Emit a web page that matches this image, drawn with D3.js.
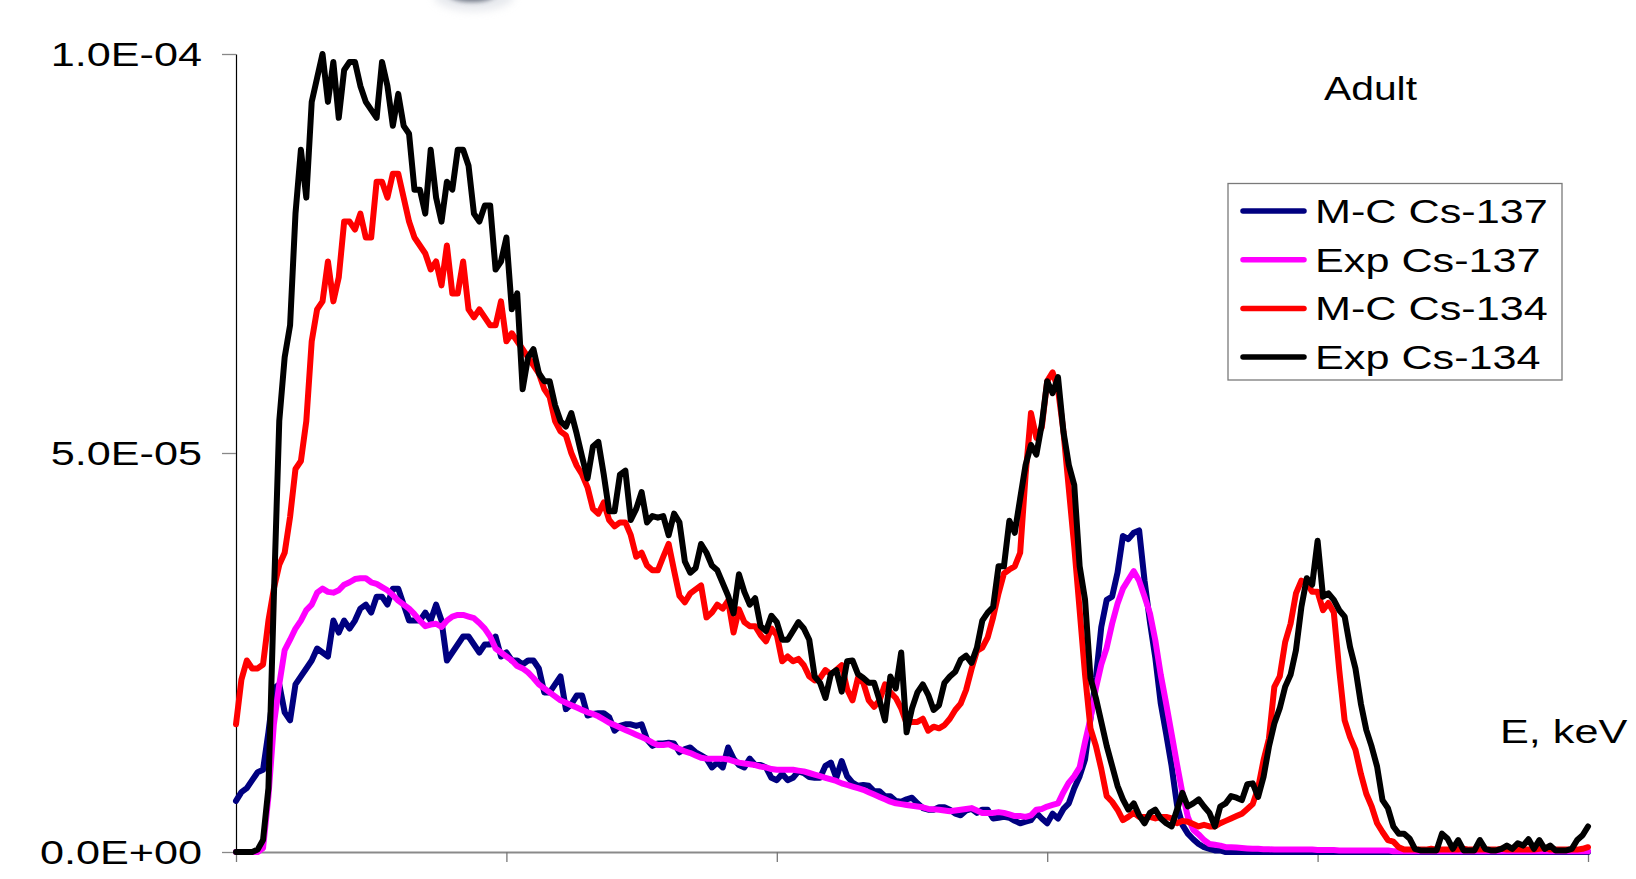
<!DOCTYPE html>
<html lang="en">
<head>
    <meta charset="UTF-8">
    <title>Adult</title>
    <style>
        body { margin: 0; background: #fff; }
        text { font-family: "Liberation Sans", Arial, sans-serif; fill: #000; }
    </style>
</head>
<script src="https://d3js.org/d3.v7.min.js"></script>
<body>
<script>
    // energy grid, keV (one reading every 4 keV)
    var energy = d3.range(0, 1001, 4);

    // spectra, units of 1E-06
    var mcCs137 = [
        6.4, 7.5, 8, 9, 10, 10.3, 15, 20.5, 21, 17.5,
        16.5, 21, 22, 23, 24, 25.5, 25, 24.5, 29, 27.5,
        29, 28, 29, 30.5, 31, 30, 32, 32, 31, 33,
        33, 31, 29, 29, 29, 30, 29, 31, 29, 24,
        25, 26, 27, 27, 26, 25, 26, 26, 27, 24.5,
        25, 24, 24, 23.5, 24, 24, 23, 20, 20, 21,
        22, 17.9, 18.5, 19.6, 19.6, 17.1, 17.3, 17.4, 17.4, 16.9,
        15.2, 15.8, 16, 16, 15.8, 16, 14.1, 13.3, 13.6, 13.6,
        13.7, 13.6, 12.5, 12.9, 13.1, 12.5, 12.1, 11.7, 10.6, 11.2,
        10.6, 13.1, 11.7, 10.9, 10.6, 11.7, 10.9, 10.9, 10.6, 9.3,
        9, 9.8, 9, 9.3, 10.1, 9.9, 9.4, 9.3, 9.3, 10.8,
        11.2, 9.3, 11.4, 9.5, 8.7, 8.3, 8.4, 8.3, 7.6, 7.6,
        7, 7, 6.4, 6.3, 6.6, 6.8, 6.1, 5.5, 5.3, 5.3,
        5.6, 5.6, 5.3, 4.8, 4.6, 5.2, 5.4, 4.9, 5.3, 5.3,
        4.2, 4.3, 4.4, 4.3, 3.9, 3.6, 3.8, 4, 4.9, 4.2,
        3.6, 4.8, 4.2, 5.4, 6.1, 8, 9.5, 11.6, 16.7, 21.8,
        28.2, 31.6, 32, 35, 39.6, 39.2, 40, 40.3, 34, 28.8,
        24.3, 18.6, 14.8, 10.8, 5.9, 3.4, 2.3, 1.6, 1, 0.6,
        0.4, 0.2, 0.2, 0, 0, 0, 0, 0, 0, 0,
        0, 0, 0, 0, 0, 0, 0, 0, 0, 0,
        0, 0, 0, 0, 0, 0, 0, 0, 0, 0,
        0, 0, 0, 0, 0, 0, 0, 0, 0, 0,
        0, 0, 0, 0, 0, 0, 0, 0, 0, 0,
        0, 0, 0, 0, 0, 0, 0, 0, 0, 0,
        0, 0, 0, 0, 0, 0, 0, 0, 0, 0,
        0];

    var expCs137 = [
        0, 0, 0, 0, 0, 0.5, 7, 16, 21, 25.3,
        26.6, 28, 29, 30.3, 31, 32.5, 33, 32.6, 32.5, 32.8,
        33.5, 33.8, 34.2, 34.3, 34.3, 33.8, 33.6, 33.2, 32.8, 32.2,
        31.5, 31, 30.5, 29.8, 29, 28.3, 28.5, 28.6, 28.2, 29,
        29.5, 29.7, 29.7, 29.5, 29.3, 28.7, 28, 27, 25.5, 25,
        24.5, 24, 23.3, 23, 22.5, 21.8, 21, 20.5, 20, 19.5,
        19, 18.7, 18.4, 18.1, 17.8, 17.5, 17.3, 17, 16.6, 16.2,
        15.9, 15.6, 15.3, 15, 14.7, 14.4, 14.1, 13.7, 13.4, 13.4,
        13.5, 13.2, 12.9, 12.6, 12.4, 12.1, 11.8, 11.7, 11.7, 11.7,
        11.7, 11.6, 11.4, 11.2, 11.1, 11, 10.9, 10.7, 10.6, 10.4,
        10.3, 10.3, 10.3, 10.3, 10.2, 10.1, 9.9, 9.7, 9.5, 9.3,
        9.1, 8.9, 8.6, 8.4, 8.2, 8, 7.8, 7.5, 7.2, 6.9,
        6.6, 6.3, 6.1, 6, 5.9, 5.8, 5.7, 5.6, 5.4, 5.35,
        5.3, 5.2, 5.1, 5.2, 5.3, 5.4, 5.5, 5.2, 4.9, 4.9,
        4.9, 5, 4.9, 4.7, 4.5, 4.5, 4.4, 4.6, 5.3, 5.4,
        5.7, 5.9, 6.1, 7.5, 8.7, 9.5, 10.6, 13.8, 16.7, 20.5,
        23.5, 25.6, 28.6, 31.1, 33, 34.1, 35.2, 34, 32, 29.9,
        26.5, 22.2, 18.6, 14.8, 11, 7.4, 4.4, 2.8, 2.2, 1.5,
        1, 0.9, 0.8, 0.6, 0.6, 0.55, 0.5, 0.45, 0.4, 0.4,
        0.35, 0.35, 0.3, 0.3, 0.3, 0.3, 0.3, 0.3, 0.3, 0.3,
        0.25, 0.25, 0.25, 0.25, 0.2, 0.2, 0.2, 0.2, 0.2, 0.2,
        0.2, 0.2, 0.2, 0.2, 0.1, 0.1, 0.1, 0.1, 0.1, 0.1,
        0.1, 0.1, 0.1, 0.1, 0.1, 0.1, 0.1, 0.1, 0.1, 0.1,
        0.1, 0.1, 0.1, 0.1, 0.1, 0.1, 0.1, 0.1, 0.1, 0.1,
        0.1, 0.1, 0.1, 0.1, 0.1, 0.1, 0.1, 0.1, 0.1, 0.1,
        0.1];

    var mcCs134 = [
        16, 21.6, 24, 23, 23, 23.5, 29, 33, 36, 37.5,
        42, 48, 49, 54, 64, 68, 69, 74, 69, 72,
        79, 79, 78, 80, 77, 77, 84, 84, 82, 85,
        85, 82, 79, 77, 76, 75, 73, 74, 71, 76,
        70, 70, 74, 68, 67, 68, 67, 66, 66, 69,
        64, 65, 64, 63, 62, 61, 60, 58, 57, 54,
        52.7, 52.2, 50, 48.4, 47.3, 45.7, 43, 42.4, 43.8, 41.6,
        40.8, 41.3, 41.3, 39.7, 37, 37.5, 35.9, 35.3, 35.3, 37,
        38.6, 35.3, 32.1, 31.3, 32.4, 32.9, 33.4, 29.4, 30, 31,
        30.5, 31.5, 27.5, 30.4, 28.8, 28.3, 28.3, 27.2, 26.4, 28,
        27.2, 23.9, 24.5, 23.9, 24.2, 23.4, 22, 21.5, 21.8, 22.8,
        22.3, 22.8, 23.4, 20.4, 19, 21.8, 21.2, 19, 18.2, 19,
        21, 20, 19.3, 18, 16.1, 16.3, 16.3, 16.7, 15.2, 15.7,
        15.5, 15.9, 16.7, 17.8, 18.6, 20.3, 22.9, 25.2, 25.6, 26.9,
        29.4, 32.4, 34.9, 35.4, 35.8, 37.5, 47.2, 55, 51.9, 53.2,
        59, 60.1, 58, 52.7, 45.5, 38.3, 30.3, 22.2, 15.5, 13.3,
        10.4, 7, 6.3, 5.3, 4, 4.4, 4.9, 4.4, 4.4, 4.4,
        4.2, 4.4, 4.4, 4.2, 3.6, 3.9, 3.8, 3.5, 3.2, 3.4,
        3.2, 3.2, 3.6, 3.9, 4.2, 4.5, 4.8, 5.4, 6, 8,
        11.5, 14.2, 20.7, 22, 26.3, 28.6, 32.4, 34, 33.7, 32.6,
        32.6, 30.3, 31.2, 30, 22.8, 16.5, 14.4, 12.8, 9.8, 7.3,
        5.7, 3.6, 2.5, 1.5, 1.3, 0.6, 0.3, 0.3, 0.3, 0.3,
        0.3, 0.4, 0.3, 0.3, 0.3, 0.3, 0.3, 0.4, 0.3, 0.3,
        0.3, 0.3, 0.3, 0.3, 0.4, 0.3, 0.3, 0.3, 0.3, 0.3,
        0.3, 0.4, 0.5, 0.3, 0.3, 0.3, 0.3, 0.3, 0.3, 0.4,
        0.6];

    var expCs134 = [
        0, 0, 0, 0, 0.3, 1.5, 8, 32, 54, 62,
        66, 80, 88, 82, 94, 97, 100, 94, 99, 92,
        98, 99, 99, 96, 94, 93, 92, 99, 96, 91,
        95, 91, 90, 83, 83, 80, 88, 82, 79, 84,
        83, 88, 88, 86, 80, 79, 81, 81, 73, 74,
        77, 68, 70, 58, 62, 63, 60, 59, 59, 56,
        54, 53.3, 55, 52.4, 49.5, 46.8, 50.8, 51.4, 47.3, 42.7,
        42.7, 47.3, 47.8, 41.6, 43, 45.1, 41.3, 42.1, 41.9, 42.1,
        39.7, 42.4, 41.3, 36.4, 35, 35.6, 38.6, 37.5, 35.9, 35.3,
        33.7, 32.1, 29.9, 34.8, 32.6, 31, 31.8, 28.3, 27.7, 29.6,
        28.8, 26.6, 26.6, 27.7, 28.8, 28, 26.6, 22, 21.2, 19.3,
        22.3, 22.8, 20.1, 23.9, 24, 22.3, 21.8, 21.2, 21.2, 19,
        16.5, 22, 20.5, 25, 15, 18, 20, 21, 19.7, 17.8,
        18.4, 21.2, 22, 22.6, 24.1, 24.6, 23.7, 25.6, 29, 30,
        30.7, 35.8, 35.8, 41.5, 40, 44.3, 48.5, 51, 49.8, 53.6,
        59, 57.5, 59.5, 52.7, 48.5, 46, 35.8, 31.6, 21.8, 19.3,
        16.3, 13.3, 10.8, 8.3, 6.6, 5.3, 6.1, 4.6, 3.6, 4.9,
        5.3, 4.2, 3.6, 3.2, 5.3, 7.4, 5.7, 6.1, 6.6, 5.7,
        4.9, 3.2, 5.7, 6.1, 7, 6.8, 6.5, 8.5, 8.6, 6.9,
        9.4, 13.2, 16.1, 18, 20.7, 22.2, 25.3, 30.7, 34.3, 33.5,
        39, 32, 32.4, 31.6, 30.3, 29.5, 25.7, 23, 18.6, 15.3,
        13.2, 10.7, 6.5, 5.5, 3.2, 2.3, 2.3, 1.7, 0.4, 0.2,
        0.2, 0.2, 0.2, 2.3, 1.7, 0.4, 1.5, 0.2, 0.2, 0.2,
        1.5, 0.4, 0.2, 0.2, 0.4, 0.8, 0.4, 1.1, 0.8, 1.6,
        0.4, 1.5, 0.4, 0.8, 0.2, 0.2, 0.2, 0.4, 1.5, 2.1,
        3.2];

    var seriesNames = ["M-C Cs-137", "Exp Cs-137", "M-C Cs-134", "Exp Cs-134"];
    var seriesColors = ["#000080", "#ff00ff", "#ff0000", "#000000"];
    var seriesData = [mcCs137, expCs137, mcCs134, expCs134];

    var yTicks = [0, 5e-5, 1e-4];
    var xTicks = [0, 200, 400, 600, 800, 1000];

    var stretch = 1.27; // the picture is stretched sideways, text too

    var svg = d3.select("body")
        .append("svg")
        .attr("width", 1636)
        .attr("height", 879);

    var x = d3.scaleLinear().domain([0, 1000]).range([236, 1588]);
    var y = d3.scaleLinear().domain([0, 1e-4]).range([852, 54]);

    function sci(d) {
        if (d === 0) return "0.0E+00";
        var e = Math.floor(Math.log10(d) + 1e-9);
        var m = d / Math.pow(10, e);
        var ee = Math.abs(e);
        return m.toFixed(1) + "E" + (e < 0 ? "-" : "+") + (ee < 10 ? "0" : "") + ee;
    }

    // blurred bit of a picture cut off at the top
    var defs = svg.append("defs");
    defs.append("filter").attr("id", "blur1")
        .attr("x", "-50%").attr("y", "-50%").attr("width", "200%").attr("height", "200%")
        .append("feGaussianBlur").attr("stdDeviation", 4);
    defs.append("filter").attr("id", "blur2")
        .attr("x", "-50%").attr("y", "-50%").attr("width", "200%").attr("height", "200%")
        .append("feGaussianBlur").attr("stdDeviation", 2);
    svg.append("ellipse")
        .attr("cx", 474).attr("cy", -4).attr("rx", 40).attr("ry", 15)
        .attr("fill", "#d3d7df").attr("opacity", 0.55).attr("filter", "url(#blur1)");
    svg.append("ellipse")
        .attr("cx", 472).attr("cy", -6).attr("rx", 24).attr("ry", 8)
        .attr("fill", "#4a5264").attr("opacity", 0.7).attr("filter", "url(#blur2)");

    // x axis
    var gx = svg.append("g")
        .attr("transform", "translate(0,852)")
        .call(d3.axisBottom(x).tickValues(xTicks).tickFormat("").tickSize(10).tickSizeOuter(0));
    gx.select(".domain").attr("stroke", "#8a8a8a").attr("stroke-width", 2.2);
    gx.selectAll(".tick line").attr("stroke", "#777").attr("stroke-width", 1.3);

    // y axis
    var gy = svg.append("g")
        .attr("transform", "translate(236,0)")
        .call(d3.axisLeft(y).tickValues(yTicks).tickFormat(sci).tickSize(14).tickSizeOuter(0));
    gy.select(".domain").attr("stroke", "#000").attr("stroke-width", 1.2);
    gy.selectAll(".tick line").attr("stroke", "#888").attr("stroke-width", 1.3);
    gy.selectAll(".tick text")
        .attr("x", -34 / stretch)
        .attr("dy", "0.35em")
        .attr("font-size", 34)
        .attr("fill", "#000")
        .attr("transform", "scale(" + stretch + ",1)");

    // series, drawn in legend order so the black lies on top
    var line = d3.line()
        .defined(function (d, i) { return i < energy.length; })
        .x(function (d, i) { return x(energy[i]); })
        .y(function (d) { return y(d * 1e-6); });

    svg.append("g").selectAll("path")
        .data(seriesData)
        .enter().append("path")
        .attr("d", line)
        .attr("fill", "none")
        .attr("stroke", function (d, i) { return seriesColors[i]; })
        .attr("stroke-width", 6)
        .attr("stroke-linejoin", "round")
        .attr("stroke-linecap", "round");

    // legend
    var lg = svg.append("g");
    lg.append("rect")
        .attr("x", 1228).attr("y", 183.5)
        .attr("width", 334).attr("height", 196.5)
        .attr("fill", "#fff")
        .attr("stroke", "#7a7a7a").attr("stroke-width", 1.3);
    var rows = lg.selectAll("g.row")
        .data(seriesNames)
        .enter().append("g")
        .attr("class", "row")
        .attr("transform", function (d, i) { return "translate(0," + (211 + i * 48.7) + ")"; });
    rows.append("line")
        .attr("x1", 1243).attr("x2", 1304)
        .attr("stroke", function (d, i) { return seriesColors[i]; })
        .attr("stroke-width", 5.5)
        .attr("stroke-linecap", "round");
    rows.append("text")
        .attr("transform", "translate(1315,12) scale(" + stretch + ",1)")
        .attr("font-size", 34)
        .text(function (d) { return d; });

    // labels
    svg.append("text")
        .attr("transform", "translate(1324,100) scale(1.2,1)")
        .attr("font-size", 34)
        .text("Adult");
    svg.append("text")
        .attr("transform", "translate(1500,743) scale(" + stretch + ",1)")
        .attr("font-size", 34)
        .text("E, keV");
</script>
</body>
</html>
